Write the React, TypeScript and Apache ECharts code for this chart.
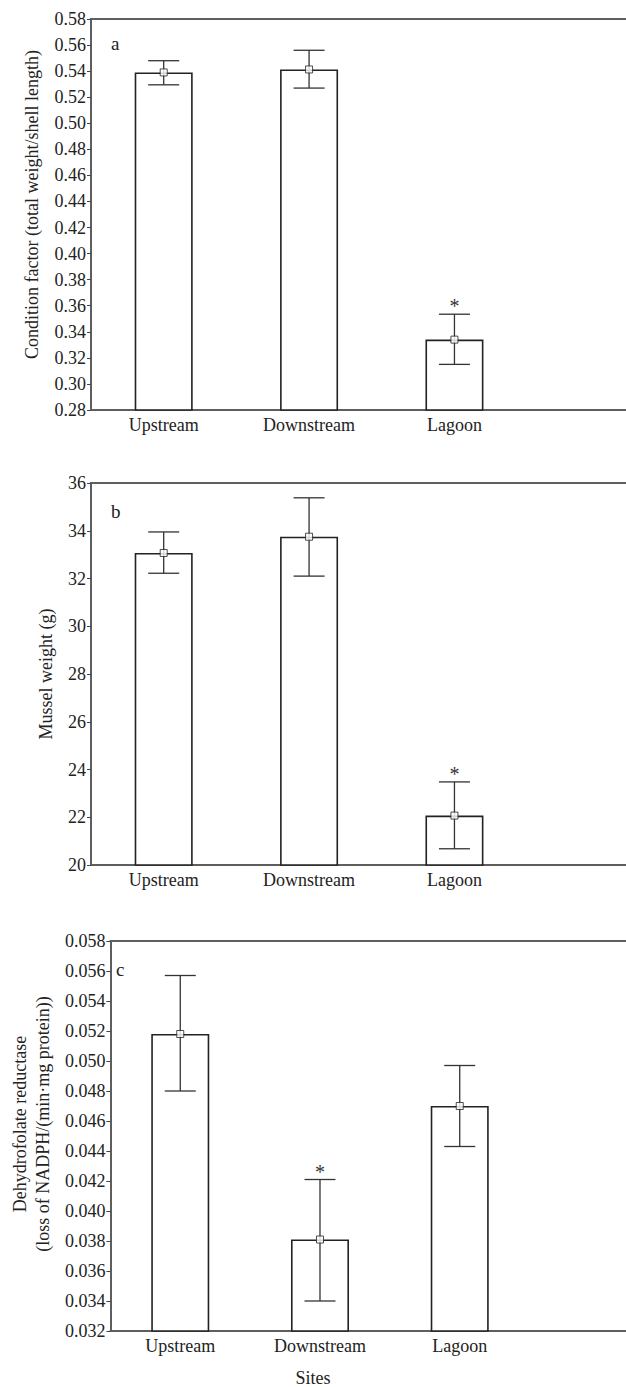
import React, { useEffect, useRef } from "react";
import * as echarts from "echarts";

const categories = ["Upstream", "Downstream", "Lagoon"];

const conditionMean = [0.539, 0.5413, 0.334];
const conditionLow = [0.5295, 0.527, 0.315];
const conditionHigh = [0.548, 0.556, 0.3535];
const conditionSig = [false, false, true];

const weightMean = [33.07, 33.75, 22.07];
const weightLow = [32.22, 32.1, 20.68];
const weightHigh = [33.95, 35.38, 23.48];
const weightSig = [false, false, true];

const dhfrMean = [0.0518, 0.0381, 0.047];
const dhfrLow = [0.048, 0.034, 0.0443];
const dhfrHigh = [0.0557, 0.0421, 0.0497];
const dhfrSig = [false, true, false];

const FONT = "'Liberation Serif', 'Times New Roman', serif";
const AXIS_COLOR = "#5e5e5e";
const INK = "#222";

type PanelCfg = {
  grid: { left: number; top: number; height: number };
  xMax: number;
  yMin: number;
  yMax: number;
  yInterval: number;
  decimals: number;
  name: string;
  nameGap: number;
  nameShift: number;
  mean: number[];
  low: number[];
  high: number[];
  sig: boolean[];
};

const panels: PanelCfg[] = [
  {
    grid: { left: 91, top: 19, height: 391 },
    xMax: 3.18,
    yMin: 0.28,
    yMax: 0.58,
    yInterval: 0.02,
    decimals: 2,
    name: "Condition factor (total weight/shell length)",
    nameGap: 46,
    nameShift: 20,
    mean: conditionMean,
    low: conditionLow,
    high: conditionHigh,
    sig: conditionSig,
  },
  {
    grid: { left: 91, top: 483, height: 382 },
    xMax: 3.18,
    yMin: 20,
    yMax: 36,
    yInterval: 2,
    decimals: 0,
    name: "Mussel weight (g)",
    nameGap: 34,
    nameShift: 0,
    mean: weightMean,
    low: weightLow,
    high: weightHigh,
    sig: weightSig,
  },
  {
    grid: { left: 97, top: 941, height: 390 },
    xMax: 3.19,
    yMin: 0.032,
    yMax: 0.058,
    yInterval: 0.002,
    decimals: 3,
    name: "Dehydrofolate reductase\n(loss of NADPH/(min·mg protein))",
    nameGap: 50,
    nameShift: 24,
    mean: dhfrMean,
    low: dhfrLow,
    high: dhfrHigh,
    sig: dhfrSig,
  },
];

function buildOption() {
  const grid: any[] = [];
  const xAxis: any[] = [];
  const yAxis: any[] = [];
  const series: any[] = [];
  const ticks = categories.map((_, i) => i);

  panels.forEach((p, k) => {
    grid.push({ left: p.grid.left, top: p.grid.top, height: p.grid.height, right: 0 });
    xAxis.push({
      type: "value",
      gridIndex: k,
      position: "bottom",
      min: -0.5,
      max: p.xMax,
      axisLine: { show: true, onZero: false, lineStyle: { color: AXIS_COLOR, width: 2 } },
      axisTick: {
        show: true,
        inside: true,
        length: 4,
        customValues: ticks,
        lineStyle: { color: "#444", width: 1 },
      },
      axisLabel: {
        show: true,
        customValues: ticks,
        formatter: (v: number) => categories[Math.round(v)] ?? "",
        fontFamily: FONT,
        fontSize: 18,
        color: INK,
        margin: 6,
      },
      splitLine: { show: false },
    });
    xAxis.push({
      type: "value",
      gridIndex: k,
      position: "top",
      min: -0.5,
      max: p.xMax,
      axisLine: { show: true, onZero: false, lineStyle: { color: AXIS_COLOR, width: 2 } },
      axisTick: { show: false },
      axisLabel: { show: false },
      splitLine: { show: false },
    });
    yAxis.push({
      type: "value",
      gridIndex: k,
      min: p.yMin,
      max: p.yMax,
      interval: p.yInterval,
      axisLine: { show: true, onZero: false, lineStyle: { color: AXIS_COLOR, width: 2 } },
      axisTick: { show: true, length: 4, lineStyle: { color: "#444", width: 1 } },
      axisLabel: {
        formatter: (v: number) => v.toFixed(p.decimals),
        fontFamily: FONT,
        fontSize: 18,
        color: INK,
        margin: 5,
      },
      splitLine: { show: false },
      name: p.name,
      nameLocation: "middle",
      nameGap: p.nameGap,
      nameTextStyle: {
        fontFamily: FONT,
        fontSize: 18,
        color: INK,
        lineHeight: 23,
        padding: [0, 0, 0, p.nameShift],
      },
    });

    const xi = k * 2;
    series.push({
      type: "bar",
      xAxisIndex: xi,
      yAxisIndex: k,
      barWidth: 58,
      data: p.mean.map((m, i) => [i, m]),
      itemStyle: { color: "#fff", borderColor: INK, borderWidth: 1.6 },
      z: 2,
    });
    series.push({
      type: "custom",
      xAxisIndex: xi,
      yAxisIndex: k,
      data: p.low.map((l, i) => [i, l, p.high[i], p.sig[i] ? 1 : 0]),
      renderItem: (params: any, api: any) => {
        const x = api.value(0);
        const lo = api.coord([x, api.value(1)]);
        const hi = api.coord([x, api.value(2)]);
        const half = 15.5;
        const style = { stroke: "#333", lineWidth: 1.3 };
        const children: any[] = [
          { type: "line", shape: { x1: lo[0], y1: lo[1], x2: hi[0], y2: hi[1] }, style },
          { type: "line", shape: { x1: lo[0] - half, y1: lo[1], x2: lo[0] + half, y2: lo[1] }, style },
          { type: "line", shape: { x1: hi[0] - half, y1: hi[1], x2: hi[0] + half, y2: hi[1] }, style },
        ];
        if (api.value(3) === 1) {
          children.push({
            type: "text",
            style: {
              text: "*",
              x: hi[0],
              y: hi[1] + 2,
              align: "center",
              verticalAlign: "bottom",
              fontFamily: FONT,
              fontSize: 20,
              fill: "#333",
            },
          });
        }
        return { type: "group", children };
      },
      z: 3,
    });
    series.push({
      type: "scatter",
      xAxisIndex: xi,
      yAxisIndex: k,
      symbol: "rect",
      symbolSize: 7,
      data: p.mean.map((m, i) => [i, m]),
      itemStyle: { color: "#fff", borderColor: INK, borderWidth: 1 },
      z: 5,
    });
  });

  const letterStyle = { fontFamily: FONT, fontSize: 19, fill: INK };
  const graphic = [
    { type: "text", left: 111, top: 34, style: { text: "a", ...letterStyle } },
    { type: "text", left: 111, top: 502, style: { text: "b", ...letterStyle } },
    { type: "text", left: 116, top: 960, style: { text: "c", ...letterStyle } },
    {
      type: "text",
      x: 313,
      y: 1378,
      style: {
        text: "Sites",
        align: "center",
        verticalAlign: "middle",
        fontFamily: FONT,
        fontSize: 18,
        fill: INK,
      },
    },
  ];

  return {
    animation: false,
    backgroundColor: "#fff",
    grid,
    xAxis,
    yAxis,
    series,
    graphic,
  };
}

export default function App() {
  const ref = useRef<HTMLDivElement>(null);
  useEffect(() => {
    document.body.style.margin = "0";
    if (!ref.current) return;
    const chart = echarts.init(ref.current, undefined, { renderer: "svg" });
    chart.setOption(buildOption() as any);
    return () => chart.dispose();
  }, []);
  return <div ref={ref} style={{ width: 626, height: 1387 }} />;
}
